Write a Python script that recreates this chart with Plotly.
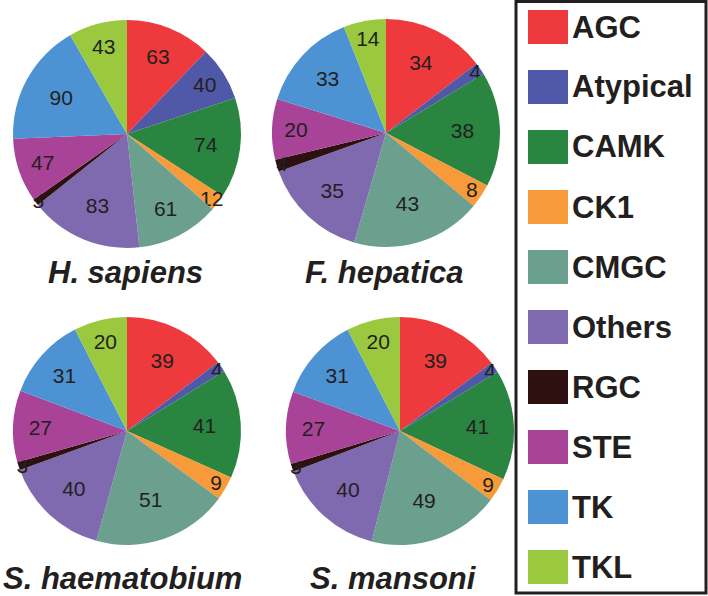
import plotly.graph_objects as go

categories = ["AGC", "Atypical", "CAMK", "CK1", "CMGC", "Others", "RGC", "STE", "TK", "TKL"]
colors = ["#EE3A3C", "#5058A8", "#29853F", "#F79A3A", "#6BA08F", "#7F6AAF", "#2E1010", "#A84397", "#4D92D2", "#9AC83E"]

species = ["H. sapiens", "F. hepatica", "S. haematobium", "S. mansoni"]
h_sapiens = [63, 40, 74, 12, 61, 83, 5, 47, 90, 43]
f_hepatica = [34, 4, 38, 8, 43, 35, 4, 20, 33, 14]
s_haematobium = [39, 4, 41, 9, 51, 40, 3, 27, 31, 20]
s_mansoni = [39, 4, 41, 9, 49, 40, 3, 27, 31, 20]
values = [h_sapiens, f_hepatica, s_haematobium, s_mansoni]

W, H = 708, 596
# pie boxes in pixels: (left, top, size)
boxes = [(13, 20, 228), (272, 19, 228), (13, 317, 228), (286, 317, 228)]
title_pos = [(125, 272), (385, 272), (122, 578), (393, 578)]

fig = go.Figure()
for name, vals, (l, t, s) in zip(species, values, boxes):
    fig.add_trace(go.Pie(
        labels=categories, values=vals, sort=False, direction="clockwise",
        marker=dict(colors=colors, line=dict(width=0)),
        textinfo="value", textposition="inside", insidetextorientation="horizontal",
        textfont=dict(family="Liberation Sans, Arial", size=21, color="#231F20"),
        domain=dict(x=[l / W, (l + s) / W], y=[1 - (t + s) / H, 1 - t / H]),
        showlegend=False, hoverinfo="label+value", name=name,
    ))

annotations = []
for name, (x, y) in zip(species, title_pos):
    annotations.append(dict(
        text="<b><i>%s</i></b>" % name, x=x / W, y=1 - y / H, xref="paper", yref="paper",
        showarrow=False, xanchor="center", yanchor="middle",
        font=dict(family="Liberation Sans, Arial", size=31, color="#231F20"),
    ))

shapes = [dict(type="rect", xref="paper", yref="paper",
               x0=516 / W, x1=706 / W, y0=1 - 593 / H, y1=1 - 1.5 / H,
               line=dict(color="#231F20", width=3), fillcolor="rgba(0,0,0,0)")]
for i, (cat, col) in enumerate(zip(categories, colors)):
    cy = 27 + 60 * i
    shapes.append(dict(type="rect", xref="paper", yref="paper",
                       x0=528 / W, x1=568 / W, y0=1 - (cy + 17) / H, y1=1 - (cy - 17) / H,
                       line=dict(width=0), fillcolor=col))
    annotations.append(dict(
        text="<b>%s</b>" % cat, x=570 / W, y=1 - cy / H, xref="paper", yref="paper",
        showarrow=False, xanchor="left", yanchor="middle",
        font=dict(family="Liberation Sans, Arial", size=31, color="#231F20"),
    ))

fig.update_layout(
    width=W, height=H, margin=dict(l=0, r=0, t=0, b=0),
    paper_bgcolor="white", plot_bgcolor="white",
    uniformtext=dict(minsize=21, mode="show"),
    annotations=annotations, shapes=shapes,
)
fig.write_html("out.html")
